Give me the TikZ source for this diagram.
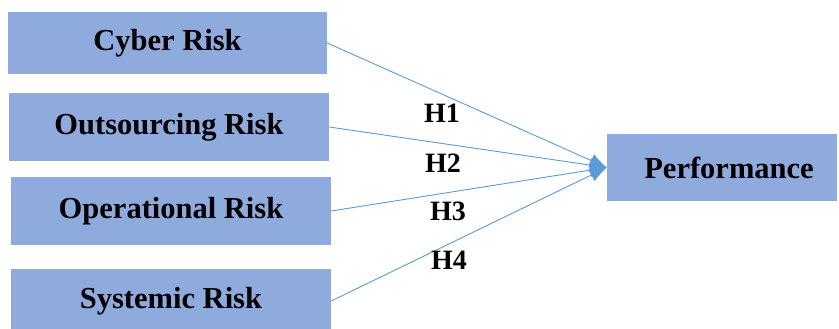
\documentclass[tikz,border=0pt]{standalone}
\usepackage{fontspec}
\setmainfont{Liberation Serif}
\usetikzlibrary{arrows.meta}
\definecolor{boxfill}{HTML}{8FAADC}
\definecolor{linkblue}{HTML}{5B9BD5}
\tikzset{
  riskbox/.style={fill=boxfill, draw=none, inner sep=0pt,
    font=\fontsize{30.5}{32}\selectfont\bfseries},
  hyplabel/.style={font=\fontsize{28}{30}\selectfont\bfseries, inner sep=0pt},
  link/.style={color=linkblue, line width=0.9pt,
    -{Latex[length=17pt,width=14pt]}}
}
\begin{document}
\begin{tikzpicture}[x=1pt,y=-1pt]
  \useasboundingbox (0,0) rectangle (839,329);
  % predictor boxes
  \node[riskbox, minimum width=319pt, minimum height=62pt] (cyber) at (167.5,43) {Cyber Risk};
  \node[riskbox, minimum width=320pt, minimum height=68pt] (outs) at (169,127) {Outsourcing Risk};
  \node[riskbox, minimum width=320pt, minimum height=68pt] (oper) at (171,211) {Operational Risk};
  \node[riskbox, minimum width=320pt, minimum height=64pt] (syst) at (171,301) {Systemic Risk};
  % outcome box
  \node[riskbox, minimum width=230pt, minimum height=67pt] (perf) at (722,167.5) {\hspace*{14pt}Performance};
  % hypothesised paths
  \draw[link] (cyber.east) -- (perf.west);
  \draw[link] (outs.east) -- (perf.west);
  \draw[link] (oper.east) -- (perf.west);
  \draw[link] (syst.east) -- (perf.west);
  % path labels
  \node[hyplabel] (h1) at (442,113) {H1};
  \node[hyplabel] (h2) at (443,163) {H2};
  \node[hyplabel] (h3) at (448,211) {H3};
  \node[hyplabel] (h4) at (449,260) {H4};
\end{tikzpicture}
\end{document}
